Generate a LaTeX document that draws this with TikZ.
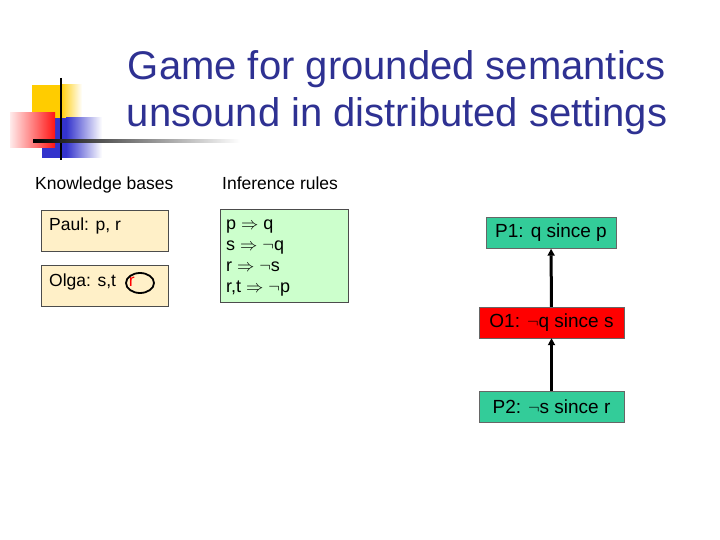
\documentclass[tikz,border=0pt]{standalone}
\usepackage{fontspec}
\setmainfont{Liberation Sans}
\usetikzlibrary{arrows.meta}
\definecolor{titleblue}{RGB}{46,49,146}
\definecolor{kbyellow}{RGB}{255,240,200}
\definecolor{rulegreen}{RGB}{204,255,204}
\definecolor{movegreen}{RGB}{51,204,153}
\definecolor{logoyellow}{RGB}{255,204,0}
\definecolor{logoblue}{RGB}{51,51,204}
\definecolor{logored}{RGB}{255,20,20}

\begin{document}
\begin{tikzpicture}[x=1pt,y=-1pt,>=Stealth,
  kbbox/.style={draw=black!70,fill=kbyellow,minimum width=127pt,minimum height=41pt,inner sep=0pt},
  boxtext/.style={anchor=base west,inner sep=0pt,font=\fontsize{17.5}{21}\selectfont},
  move/.style={draw=black!60,minimum height=31pt,inner sep=0pt,font=\fontsize{19}{22}\selectfont},
  attack/.style={-{Triangle[length=7pt,width=7pt]},line width=3pt}]
\useasboundingbox (0,0) rectangle (720,540);
% logo
\fill[logoyellow] (32,85) rectangle (60,118);
\shade[left color=logoyellow,right color=white] (60,85) rectangle (82,118);
\fill[logoblue] (42,118) rectangle (66,158);
\shade[left color=logoblue,right color=white] (66,118) rectangle (102,158);
\shade[left color=red!8,right color=logored] (10,113) rectangle (55,148);
\draw[line width=2.5pt] (61,78) -- (61,160);
\shade[left color=black,right color=white] (33,139.8) rectangle (240,142.6);
% title
\node[font=\fontsize{40}{47}\selectfont,text=titleblue,align=center] (title) at (397,93)
  {Game for grounded semantics\\unsound in distributed settings};
% knowledge bases
\node[boxtext] (kbhead) at (35,190) {Knowledge bases};
\node[kbbox] (paul) at (104.5,230.5) {};
\node[boxtext] (paultext) at (49,230) {Paul: p, r};
\node[kbbox] (olga) at (104.5,285.5) {};
\node[boxtext] (olgatext) at (49,286) {Olga: s,t\hspace{13pt}\textcolor{red}{r}};
\draw[line width=1.8pt] (140,283) ellipse (14 and 10);
% inference rules
\node[boxtext] (ruleshead) at (222,190) {Inference rules};
\node[draw=black!70,fill=rulegreen,minimum width=128pt,minimum height=93pt,inner sep=0pt] (rules) at (284,255.5) {};
\node[anchor=north west,inner sep=0pt,align=left,font=\fontsize{18}{21}\selectfont] (rulestext) at (226,220)
  {p $\Rightarrow$ q\\s $\Rightarrow$ $\neg$q\\r $\Rightarrow$ $\neg$s\\r,t $\Rightarrow$ $\neg$p};
% dialogue game
\node[move,fill=movegreen,minimum width=130pt] (p1) at (551,233) {P1: q since p};
\node[move,fill=red,minimum width=145pt] (o1) at (551.5,322.5) {O1: $\neg$q since s};
\node[move,fill=movegreen,minimum width=145pt] (p2) at (551.5,406.5) {P2: $\neg$s since r};
\draw[attack] (o1) -- (p1);
\draw[attack] (p2) -- (o1);
\end{tikzpicture}
\end{document}
